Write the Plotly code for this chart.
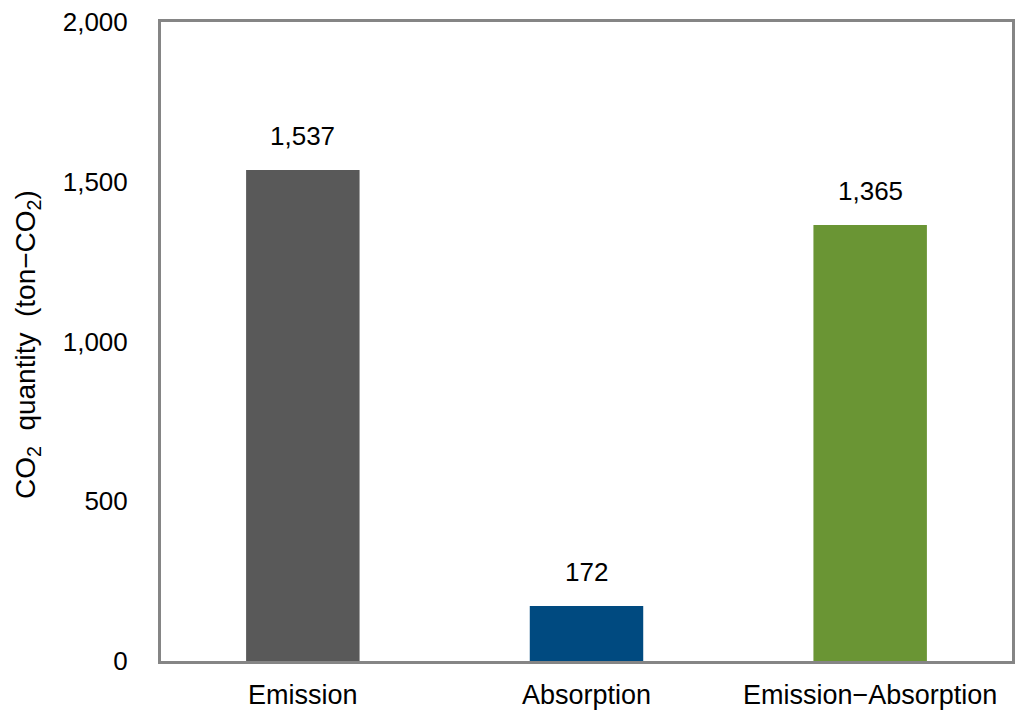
import plotly.graph_objects as go

categories = ["Emission", "Absorption", "Emission\u2212Absorption"]
values = [1537, 172, 1365]
labels = ["1,537", "172", "1,365"]
colors = ["#595959", "#004a80", "#6a9534"]
y_ticks = [0, 500, 1000, 1500, 2000]
y_tick_text = ["0", "500", "1,000", "1,500", "2,000"]
y_title = "CO<sub>2</sub>\u00a0\u00a0quantity\u00a0\u00a0(ton\u2212CO<sub>2</sub>)"

FONT = "Liberation Sans, Arial"

fig = go.Figure(go.Bar(
    x=categories, y=values, marker_color=colors, marker_line_width=0,
    width=0.4, hoverinfo="x+y",
))
for c, v, t in zip(categories, values, labels):
    fig.add_annotation(x=c, y=v, text=t, showarrow=False, yanchor="middle",
                       yshift=34, font=dict(size=26, color="#000000", family=FONT))

fig.add_annotation(xref="paper", yref="paper", x=-0.157, y=0.495, text=y_title,
                   textangle=-90, showarrow=False, xanchor="center", yanchor="middle",
                   font=dict(size=28, color="#000000", family=FONT))

fig.update_layout(
    width=1024, height=723,
    margin=dict(l=153, r=20, t=14, b=70, autoexpand=False),
    plot_bgcolor="white", paper_bgcolor="white",
    font=dict(family=FONT, size=26, color="#000000"),
    showlegend=False,
)
fig.update_yaxes(
    range=[0, 2000], tickvals=y_ticks, ticktext=y_tick_text,
    showgrid=False, zeroline=False, ticks="", ticklabelstandoff=25,
    showline=True, linecolor="#858585", linewidth=3, mirror=True,
    automargin=False, tickfont=dict(size=26), ticklabeloverflow="allow",
)
fig.update_xaxes(
    showgrid=False, ticks="", showline=True, linecolor="#858585", linewidth=3, mirror=True,
    ticklabelstandoff=8, automargin=False, tickfont=dict(size=27), ticklabeloverflow="allow",
)
fig.write_html("out.html")
